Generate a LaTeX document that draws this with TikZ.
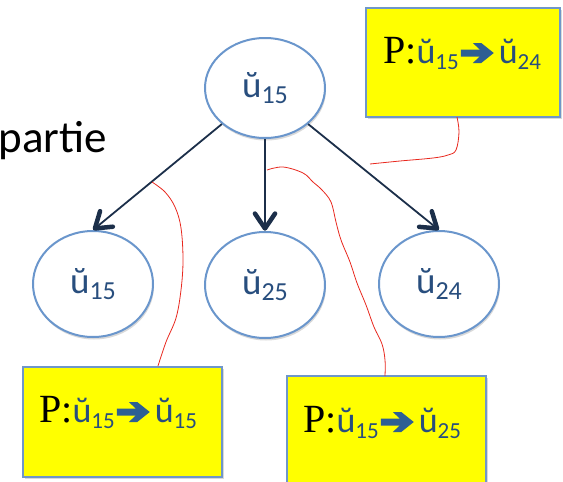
\documentclass[tikz,border=0pt]{standalone}
\usepackage{fontspec}
\setmainfont{Carlito}
\newfontfamily\serifP{Liberation Serif}
\usetikzlibrary{calc,shadows,shapes.geometric}
\definecolor{ellborder}{HTML}{6A96CC}
\definecolor{navy}{HTML}{1C2F4A}
\definecolor{utext}{HTML}{284E7E}
\definecolor{boxborder}{HTML}{6F97C9}
\definecolor{arrowblue}{HTML}{2D5F93}
\definecolor{yel}{HTML}{FFFF00}
\definecolor{redline}{HTML}{E8281E}
\newcommand\uel[1]{\raisebox{-4pt}{\color{utext}\fontsize{37}{37}\selectfont ŭ\raisebox{-6pt}{\fontsize{26}{26}\selectfont #1}}}
\newcommand\ubx[1]{{\color{utext}\fontsize{36}{36}\selectfont ŭ\raisebox{-6pt}{\fontsize{23}{23}\selectfont #1}}}
\newcommand\parr{\hspace{2pt}\tikz[x=1pt,y=1pt,baseline=0pt]{\fill[arrowblue] (0,6.5) -- (19,6.5) -- (12,0) -- (20.5,0) -- (33,10) -- (20.5,20) -- (12,20) -- (19,13.5) -- (0,13.5) -- cycle;}\hspace{5pt}}
\newcommand\ptxt[2]{{\serifP\fontsize{40}{40}\selectfont P:}\ubx{#1}\parr\ubx{#2}}
\tikzset{
  ell/.style={ellipse, draw=ellborder, line width=2pt, fill=white, minimum width=120pt, inner sep=0pt,
    drop shadow={opacity=0.3, shadow xshift=1pt, shadow yshift=-2.5pt}},
  tline/.style={draw=navy, line width=1.8pt},
  thead/.style={draw=navy, line width=4.5pt, line cap=round, line join=round},
  pbox/.style={rectangle, draw=boxborder, line width=1.5pt, fill=yel, inner sep=0pt,
    drop shadow={opacity=0.3, shadow xshift=2pt, shadow yshift=-2pt}},
  ptext/.style={anchor=base west, inner sep=0pt},
  redl/.style={draw=redline, line width=0.8pt}
}
\begin{document}
\begin{tikzpicture}[x=1pt,y=-1pt]
\useasboundingbox (0,0) rectangle (563,482);
\clip (0,0) rectangle (563,482);
% label
\node[anchor=base east, inner sep=0pt, font=\fontsize{45}{45}\selectfont] (lab) at (107,152) {partie};
% ellipses
\node[ell, minimum height=100pt] (top) at (265,88) {\uel{15}};
\node[ell, minimum height=106pt] (l) at (93,284) {\uel{15}};
\node[ell, minimum height=106pt] (m) at (265,285) {\uel{25}};
\node[ell, minimum height=106pt] (r) at (439,284) {\uel{24}};
% arrows
\coordinate (tl) at ($(l.north)!2.5pt!(top.south west)$);
\coordinate (tm) at ($(m.north)!2.5pt!(top.south)$);
\coordinate (tr) at ($(r.north)!2.5pt!(top.south east)$);
\draw[tline] (top.south west) -- (tl);
\draw[tline] (top.south) -- (tm);
\draw[tline] (top.south east) -- (tr);
\draw[thead] ($(tl)!18pt!34:(top.south west)$) -- (tl) -- ($(tl)!18pt!-34:(top.south west)$);
\draw[thead] ($(tm)!18pt!34:(top.south)$) -- (tm) -- ($(tm)!18pt!-34:(top.south)$);
\draw[thead] ($(tr)!18pt!34:(top.south east)$) -- (tr) -- ($(tr)!18pt!-34:(top.south east)$);
% boxes
\node[pbox, minimum width=194pt, minimum height=109pt] (b1) at (463,62.5) {};
\node[ptext] (t1) at (383,63) {\ptxt{15}{24}};
\node[pbox, minimum width=199pt, minimum height=110pt] (b2) at (122.5,422) {};
\node[ptext] (t2) at (39,422) {\ptxt{15}{15}};
\node[pbox, minimum width=199pt, minimum height=120pt] (b3) at (386.5,436) {};
\node[ptext] (t3) at (303,432) {\ptxt{15}{25}};
% red hand-drawn lines
\draw[redl] plot[smooth, tension=0.6] coordinates {(457,117) (459,132) (456,150) (448,155) (433,158) (400,161) (370,164)};
\draw[redl] plot[smooth, tension=0.6] coordinates {(152,182) (165,192) (175,207) (181,228) (183,260) (181,290) (176,318) (166,342) (158,366)};
\draw[redl] plot[smooth, tension=0.6] coordinates {(267,170) (283,167) (303,173) (313,182) (322,190) (331,202) (336,222) (341,240) (350,262) (357,283) (366,305) (374,327) (382,344) (385,360) (385,376)};
\end{tikzpicture}
\end{document}
